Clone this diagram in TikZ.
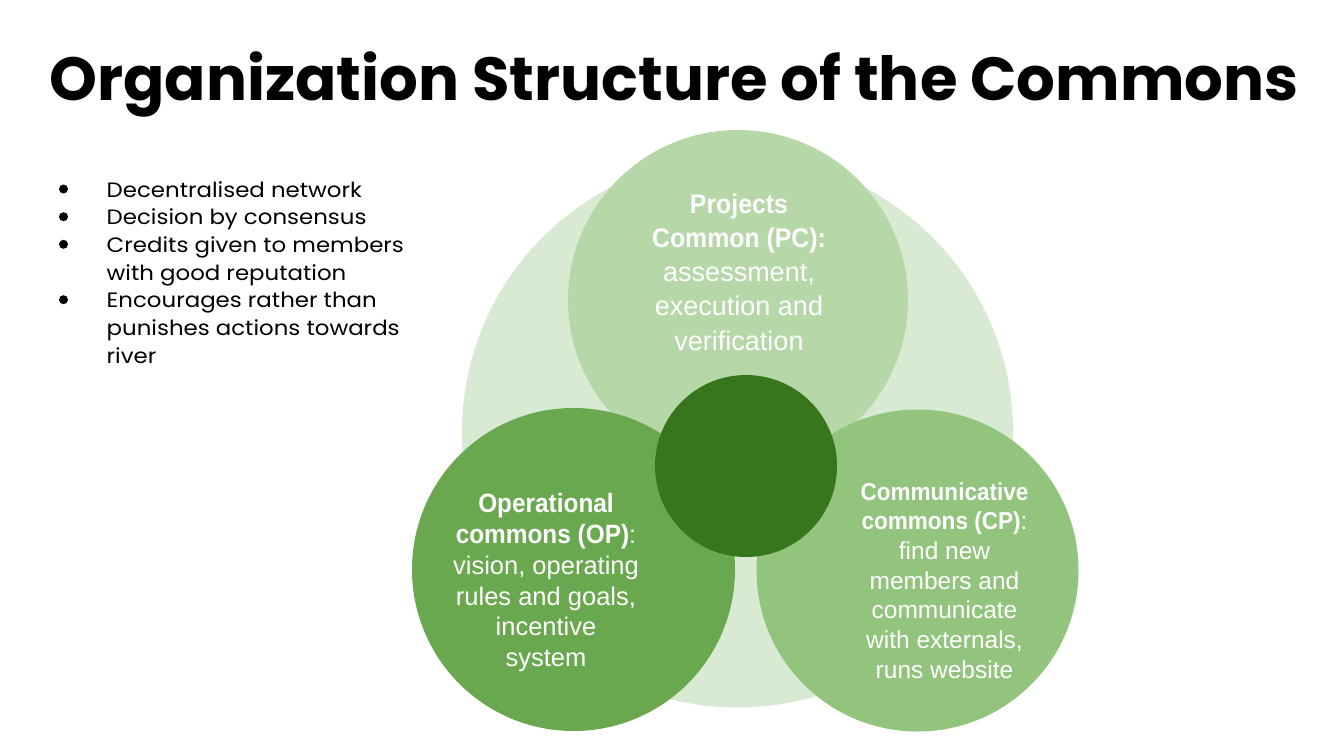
\documentclass[tikz,border=0pt]{standalone}
\usepackage{fontspec}
\newfontfamily\titlefont{Poppins}
\newfontfamily\listfont{Poppins}[FakeStretch=1.1]
\newfontfamily\bodyfont{Liberation Sans}
\newfontfamily\headfont{Liberation Sans}[FakeStretch=0.92]

\definecolor{ringbg}{HTML}{D9EAD3}
\definecolor{pcgreen}{HTML}{B6D7A8}
\definecolor{opgreen}{HTML}{6AA84F}
\definecolor{cpgreen}{HTML}{93C47D}
\definecolor{coregreen}{HTML}{38761D}

\tikzset{
  disc/.style={circle, inner sep=0pt, draw=none, minimum size=#1},
  bulletdot/.style={circle, fill=black, inner sep=0pt, minimum size=9pt},
  listtext/.style={anchor=base west, align=left, inner sep=0pt,
    font=\listfont\fontsize{20.8}{27.7}\selectfont},
  circtext/.style={anchor=base, align=center, inner sep=0pt, text=white},
}

\begin{document}
\begin{tikzpicture}[x=1pt, y=-1pt]
\useasboundingbox (0,0) rectangle (1317,742);
\fill[white] (0,0) rectangle (1317,742);

% title
\node[anchor=base, inner sep=0pt, font=\titlefont\bfseries\fontsize{60.9}{72}\selectfont]
  (title) at (674,100) {Organization Structure of the Commons};

% bullet list (anchored at the baseline of its last line)
\node[listtext] (list) at (106.5,363.3)
  {Decentralised network\\Decision by consensus\\Credits given to members\\with good reputation\\Encourages rather than\\punishes actions towards\\river};
\node[bulletdot] (b1) at (63.5,189) {};
\node[bulletdot] (b2) at (63.5,216.7) {};
\node[bulletdot] (b3) at (63.5,244.3) {};
\node[bulletdot] (b4) at (63.5,299.7) {};

% circles, back to front
\node[disc=551pt, fill=ringbg] (ring) at (737.5,432) {};
\node[disc=340pt, fill=pcgreen] (pc) at (738,300) {};
\node[disc=323pt, fill=opgreen] (op) at (573.5,569.5) {};
\node[disc=322pt, fill=cpgreen] (cp) at (917.5,570.5) {};
\node[disc=182pt, fill=coregreen] (core) at (746,466) {};

% circle labels (anchored at the baseline of their last line)
\node[circtext, font=\bodyfont\fontsize{27}{34.25}\selectfont] (pctext) at (739,350)
  {{\headfont\bfseries Projects}\\{\headfont\bfseries Common (PC):}\\assessment,\\execution and\\verification};
\node[circtext, font=\bodyfont\fontsize{25.5}{30.8}\selectfont] (optext) at (546,666.7)
  {{\headfont\bfseries\fontsize{26.5}{30.8}\selectfont Operational}\\{\headfont\bfseries\fontsize{26.5}{30.8}\selectfont commons (OP)}:\\vision, operating\\rules and goals,\\incentive\\system};
\node[circtext, font=\bodyfont\fontsize{24.5}{29.7}\selectfont] (cptext) at (944.5,678.2)
  {{\headfont\bfseries Communicative}\\{\headfont\bfseries commons (CP)}:\\find new\\members and\\communicate\\with externals,\\runs website};
\end{tikzpicture}
\end{document}
